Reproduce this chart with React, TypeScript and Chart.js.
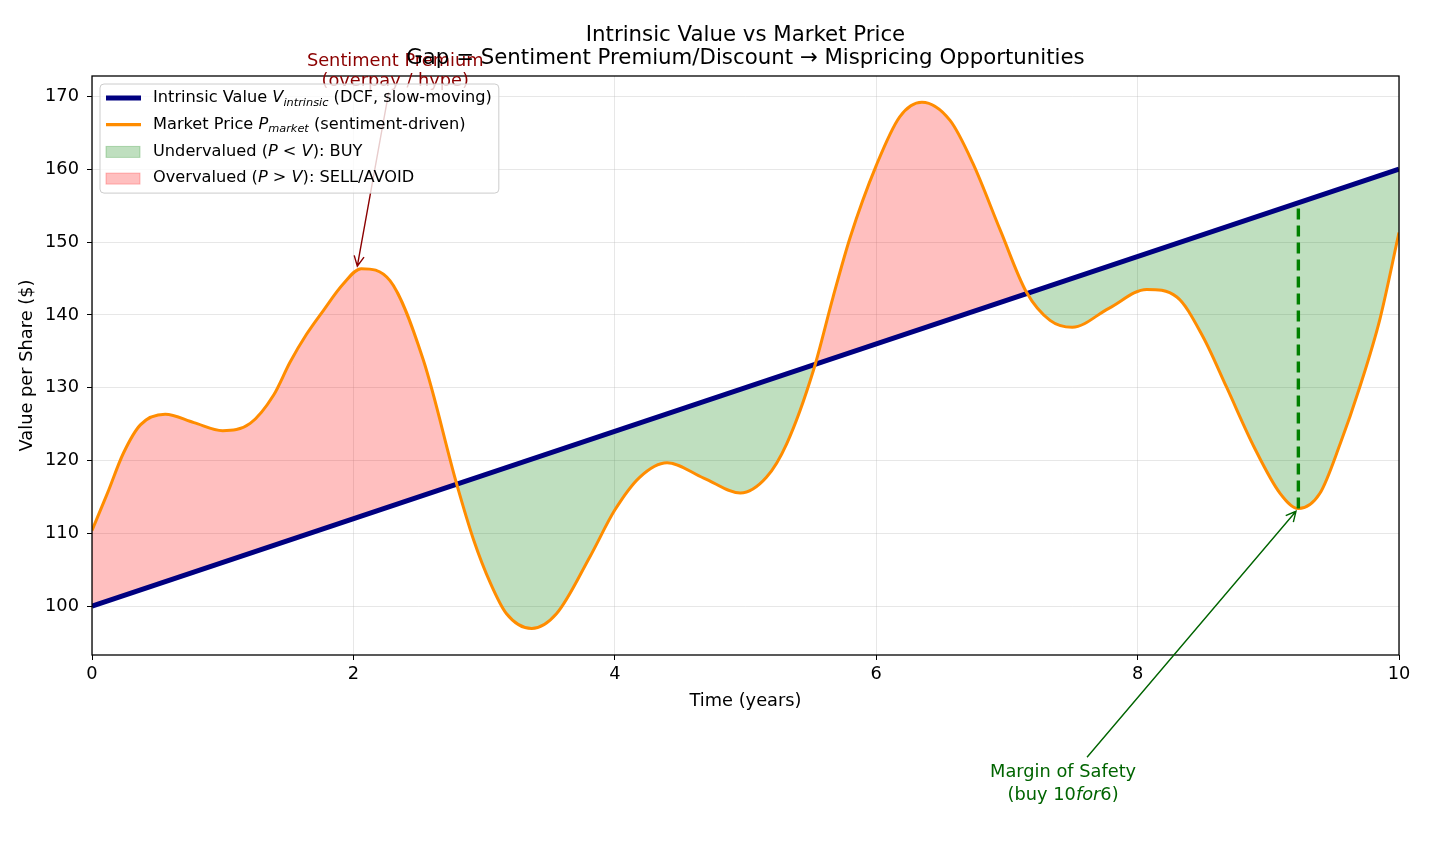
import React, { useEffect, useRef } from "react";
import { Chart, registerables } from "chart.js";

Chart.register(...registerables);

const FONT = "'DejaVu Sans', sans-serif";
const TICK_SIZE = 17.8;
const LABEL_SIZE = 17.8;
const NOTE_SIZE = 17.8;
const TITLE_SIZE = 21.3;
const LEGEND_SIZE = 16.2;

// Intrinsic value: straight DCF line
const intrinsicYears = [0, 10];
const intrinsicValues = [100, 160];

// Market price: sentiment-driven path
const marketYears = [
  0.0, 0.12, 0.24, 0.37, 0.56, 0.78, 1.0, 1.21, 1.39, 1.515, 1.64, 1.77, 1.92, 2.06, 2.28, 2.535, 2.79,
  2.92, 3.05, 3.17, 3.364, 3.555, 3.81, 4.0, 4.19, 4.4, 4.68, 4.96, 5.16, 5.315, 5.52, 5.67,
  5.8, 6.0, 6.18, 6.35, 6.565, 6.74, 6.95, 7.15, 7.33, 7.5, 7.78, 8.07, 8.3, 8.5, 8.68,
  8.89, 9.09, 9.23, 9.395, 9.55, 9.7, 9.855, 10.0,
];
const marketValues = [
  110.4, 115.6, 121.0, 124.9, 126.35, 125.2, 124.1, 125.1, 129.0, 133.5, 137.3, 140.6, 144.2, 146.35, 144.7, 133.8, 116.8,
  109.1, 103.1, 99.0, 96.94, 99.0, 106.8, 113.2, 117.7, 119.7, 117.6, 115.55, 117.7, 122.3, 132.4, 142.45,
  150.6, 160.5, 167.2, 169.2, 166.7, 160.8, 151.6, 143.1, 139.25, 138.3, 140.9, 143.5, 142.45, 137.0, 130.1,
  121.9, 115.5, 113.4, 115.5, 122.3, 130.1, 139.5, 151.3,
];

// Margin-of-safety marker (market low up to intrinsic value)
const safetyYears = [9.23, 9.23];
const safetyValues = [113.4, 155.4];

const xTicks = [0, 2, 4, 6, 8, 10];
const yTicks = [100, 110, 120, 130, 140, 150, 160, 170];

const titleLines = [
  "Intrinsic Value vs Market Price",
  "Gap = Sentiment Premium/Discount \u2192 Mispricing Opportunities",
];

type Part = { t: string; it?: boolean; sub?: boolean };

const legendRows: { kind: "line" | "patch"; color: string; width?: number; parts: Part[] }[] = [
  {
    kind: "line",
    color: "#000080",
    width: 5,
    parts: [{ t: "Intrinsic Value " }, { t: "V", it: true }, { t: "intrinsic", it: true, sub: true }, { t: " (DCF, slow-moving)" }],
  },
  {
    kind: "line",
    color: "#ff8c00",
    width: 3.2,
    parts: [{ t: "Market Price " }, { t: "P", it: true }, { t: "market", it: true, sub: true }, { t: " (sentiment-driven)" }],
  },
  {
    kind: "patch",
    color: "rgba(0,128,0,0.25)",
    parts: [{ t: "Undervalued (" }, { t: "P", it: true }, { t: " < " }, { t: "V", it: true }, { t: "): BUY" }],
  },
  {
    kind: "patch",
    color: "rgba(255,0,0,0.25)",
    parts: [{ t: "Overvalued (" }, { t: "P", it: true }, { t: " > " }, { t: "V", it: true }, { t: "): SELL/AVOID" }],
  },
];

function partFont(p: Part, size: number) {
  const s = p.sub ? size * 0.7 : size;
  return `${p.it ? "italic " : ""}${s}px ${FONT}`;
}

function measureParts(ctx: CanvasRenderingContext2D, parts: Part[], size: number) {
  let w = 0;
  for (const p of parts) {
    ctx.font = partFont(p, size);
    w += ctx.measureText(p.t).width;
  }
  return w;
}

function drawParts(ctx: CanvasRenderingContext2D, parts: Part[], x: number, y: number, size: number, color: string) {
  ctx.fillStyle = color;
  ctx.textBaseline = "middle";
  ctx.textAlign = "left";
  let cx = x;
  for (const p of parts) {
    ctx.font = partFont(p, size);
    ctx.fillText(p.t, cx, y + (p.sub ? size * 0.3 : 0));
    cx += ctx.measureText(p.t).width;
  }
}

function drawArrow(ctx: CanvasRenderingContext2D, x0: number, y0: number, x1: number, y1: number, color: string) {
  ctx.save();
  ctx.strokeStyle = color;
  ctx.lineWidth = 1.4;
  ctx.beginPath();
  ctx.moveTo(x0, y0);
  ctx.lineTo(x1, y1);
  const a = Math.atan2(y1 - y0, x1 - x0);
  const hl = 10;
  const hw = 5;
  const bx = x1 - hl * Math.cos(a);
  const by = y1 - hl * Math.sin(a);
  ctx.moveTo(bx + hw * Math.sin(a), by - hw * Math.cos(a));
  ctx.lineTo(x1, y1);
  ctx.lineTo(bx - hw * Math.sin(a), by + hw * Math.cos(a));
  ctx.stroke();
  ctx.restore();
}

const decorPlugin = {
  id: "decor",
  afterDatasetsDraw(chart: any) {
    const { ctx, chartArea: a } = chart;
    ctx.save();
    ctx.strokeStyle = "#000";
    ctx.lineWidth = 1.3;
    ctx.strokeRect(a.left, a.top, a.right - a.left, a.bottom - a.top);
    ctx.restore();
  },
  afterDraw(chart: any) {
    const { ctx, chartArea: a, scales } = chart;
    const xs = scales.x;
    const ys = scales.y;
    const cx = (a.left + a.right) / 2;
    ctx.save();

    // axis titles
    ctx.fillStyle = "#000";
    ctx.font = `${LABEL_SIZE}px ${FONT}`;
    ctx.textAlign = "center";
    ctx.textBaseline = "middle";
    ctx.fillText("Time (years)", cx, a.bottom + 46);
    ctx.save();
    ctx.translate(27, (a.top + a.bottom) / 2);
    ctx.rotate(-Math.PI / 2);
    ctx.fillText("Value per Share ($)", 0, 0);
    ctx.restore();

    // annotations
    const red = "#8b0000";
    const green = "#006400";
    ctx.font = `${NOTE_SIZE}px ${FONT}`;
    ctx.fillStyle = red;
    ctx.textAlign = "center";
    const sx = xs.getPixelForValue(2.32);
    const sy = ys.getPixelForValue(173.4);
    ctx.fillText("Sentiment Premium", sx, sy - 10);
    ctx.fillText("(overpay / hype)", sx, sy + 10);
    drawArrow(ctx, xs.getPixelForValue(2.27), ys.getPixelForValue(170.55), xs.getPixelForValue(2.03), ys.getPixelForValue(146.7), red);

    const mx = xs.getPixelForValue(7.43);
    const my = ys.getPixelForValue(75.6);
    ctx.fillStyle = green;
    ctx.fillText("Margin of Safety", mx, my - 11.5);
    const mParts: Part[] = [{ t: "(buy 10" }, { t: "for", it: true }, { t: "6)" }];
    const mw = measureParts(ctx, mParts, NOTE_SIZE);
    drawParts(ctx, mParts, mx - mw / 2, my + 11.5, NOTE_SIZE, green);
    drawArrow(ctx, xs.getPixelForValue(7.613), ys.getPixelForValue(79.27), xs.getPixelForValue(9.212), ys.getPixelForValue(113.04), green);

    // title
    ctx.fillStyle = "#000";
    ctx.font = `${TITLE_SIZE}px ${FONT}`;
    ctx.textAlign = "center";
    ctx.textBaseline = "middle";
    ctx.fillText(titleLines[0], cx, 35);
    ctx.fillText(titleLines[1], cx, 58);

    // legend
    let maxW = 0;
    for (const r of legendRows) maxW = Math.max(maxW, measureParts(ctx, r.parts, LEGEND_SIZE));
    const bx = a.left + 8;
    const by = a.top + 8;
    const bw = 53 + maxW + 7;
    const rowH = 26.7;
    const bh = 14 + rowH * (legendRows.length - 1) + 15;
    ctx.beginPath();
    ctx.roundRect(bx, by, bw, bh, 4);
    ctx.fillStyle = "rgba(255,255,255,0.8)";
    ctx.fill();
    ctx.strokeStyle = "#cccccc";
    ctx.lineWidth = 1;
    ctx.stroke();
    legendRows.forEach((r, i) => {
      const ry = by + 14 + i * rowH;
      if (r.kind === "line") {
        ctx.strokeStyle = r.color;
        ctx.lineWidth = r.width || 2;
        ctx.beginPath();
        ctx.moveTo(bx + 6, ry);
        ctx.lineTo(bx + 41, ry);
        ctx.stroke();
      } else {
        ctx.fillStyle = r.color;
        ctx.fillRect(bx + 6, ry - 5, 34, 11);
        ctx.strokeStyle = r.color;
        ctx.lineWidth = 1;
        ctx.strokeRect(bx + 6, ry - 5, 34, 11);
      }
      drawParts(ctx, r.parts, bx + 53, ry, LEGEND_SIZE, "#000");
    });

    ctx.restore();
  },
};

export default function App() {
  const canvasRef = useRef<HTMLCanvasElement | null>(null);

  useEffect(() => {
    const canvas = canvasRef.current;
    if (!canvas) return;
    const chart = new Chart(canvas, {
      type: "line",
      data: {
        datasets: [
          {
            label: "Market Price",
            data: marketYears.map((t, i) => ({ x: t, y: marketValues[i] })),
            borderColor: "#ff8c00",
            borderWidth: 3,
            pointRadius: 0,
            cubicInterpolationMode: "monotone",
            fill: { target: 1, above: "rgba(255,0,0,0.25)", below: "rgba(0,128,0,0.25)" },
            order: 0,
          },
          {
            label: "Intrinsic Value",
            data: intrinsicYears.map((t, i) => ({ x: t, y: intrinsicValues[i] })),
            borderColor: "#000080",
            borderWidth: 5,
            pointRadius: 0,
            fill: false,
            order: 1,
          },
          {
            label: "Margin of Safety",
            data: safetyYears.map((t, i) => ({ x: t, y: safetyValues[i] })),
            borderColor: "#008000",
            borderWidth: 3.4,
            borderDash: [11, 6],
            pointRadius: 0,
            fill: false,
            order: -1,
          },
        ],
      },
      options: {
        animation: false,
        responsive: false,
        maintainAspectRatio: false,
        devicePixelRatio: 1,
        layout: { padding: { top: 76, right: 31, bottom: 145, left: 0 } },
        plugins: {
          legend: { display: false },
          tooltip: { enabled: false },
          title: { display: false },
          filler: { drawTime: "beforeDatasetsDraw" },
        },
        scales: {
          x: {
            type: "linear",
            min: 0,
            max: 10,
            afterBuildTicks: (s: any) => {
              s.ticks = xTicks.map((v) => ({ value: v }));
            },
            afterFit: (s: any) => {
              s.height = 45;
            },
            ticks: { color: "#000", font: { family: FONT, size: TICK_SIZE }, padding: 4, maxRotation: 0 },
            grid: { color: "rgba(176,176,176,0.3)", lineWidth: 1, tickColor: "#000", tickLength: 5 },
            border: { display: false },
          },
          y: {
            type: "linear",
            min: 93.3,
            max: 172.8,
            afterBuildTicks: (s: any) => {
              s.ticks = yTicks.map((v) => ({ value: v }));
            },
            afterFit: (s: any) => {
              s.width = 92;
            },
            ticks: { color: "#000", font: { family: FONT, size: TICK_SIZE }, padding: 8 },
            grid: { color: "rgba(176,176,176,0.3)", lineWidth: 1, tickColor: "#000", tickLength: 5 },
            border: { display: false },
          },
        },
      },
      plugins: [decorPlugin],
    } as any);
    return () => chart.destroy();
  }, []);

  return (
    <div style={{ position: "fixed", left: 0, top: 0, width: 1430, height: 845, background: "#fff" }}>
      <canvas ref={canvasRef} width={1430} height={845} />
    </div>
  );
}
